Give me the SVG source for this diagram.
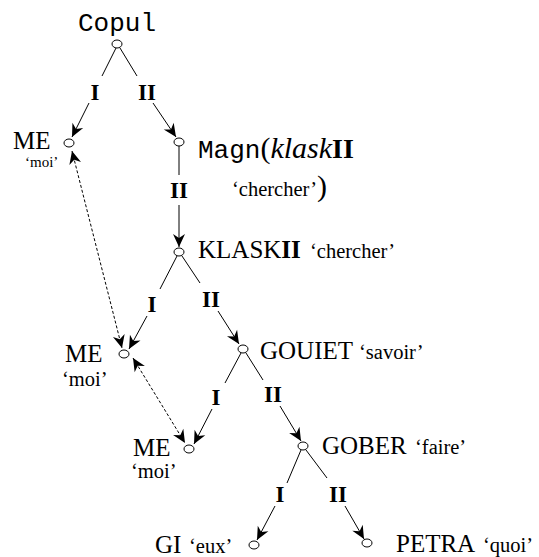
<svg xmlns="http://www.w3.org/2000/svg" width="539" height="557" viewBox="0 0 539 557">
<style>
.n{fill:#fff;stroke:#000;stroke-width:1}
.e{stroke:#000;stroke-width:1;fill:none}
.a{marker-end:url(#arr)}
.d{stroke-dasharray:3,2;marker-start:url(#arr);marker-end:url(#arr)}
.t{font-family:"Liberation Serif","Times New Roman",serif;fill:#000}
.big{font-size:25px}
.sm{font-size:20.5px}
.xs{font-size:15px}
.lab{font-family:"Liberation Serif","Times New Roman",serif;font-weight:bold;font-size:23px;text-anchor:middle}
.mono{font-family:"Liberation Mono","Courier New",monospace;font-size:26px}
</style>
<defs>
<marker id="arr" viewBox="-14 -7 15 14" refX="0" refY="0" markerWidth="15" markerHeight="14" markerUnits="userSpaceOnUse" orient="auto-start-reverse">
<path d="M0,0 L-13,-6 L-9,0 L-13,6 Z" fill="#000"/>
</marker>
</defs>
<rect width="539" height="557" fill="#fff"/>
<g id="connectors">
<line class="e" x1="116" y1="48" x2="102" y2="76"/>
<line class="e a" x1="89" y1="103" x2="72" y2="137"/>
<line class="e" x1="120" y1="48" x2="137" y2="76"/>
<line class="e a" x1="153" y1="103" x2="176" y2="137"/>
<line class="e" x1="179" y1="146" x2="179" y2="175"/>
<line class="e a" x1="179" y1="205" x2="179" y2="247"/>
<line class="e" x1="177" y1="256" x2="160" y2="289"/>
<line class="e a" x1="147" y1="316" x2="129" y2="349"/>
<line class="e" x1="182" y1="256" x2="200" y2="283"/>
<line class="e a" x1="218" y1="311" x2="239" y2="344"/>
<line class="e" x1="241" y1="353" x2="225" y2="383"/>
<line class="e a" x1="212" y1="409" x2="194" y2="444"/>
<line class="e" x1="246" y1="353" x2="263" y2="380"/>
<line class="e a" x1="280" y1="406" x2="301" y2="441"/>
<line class="e" x1="301" y1="450" x2="287" y2="483"/>
<line class="e a" x1="275" y1="506" x2="257" y2="540"/>
<line class="e" x1="306" y1="450" x2="327" y2="478"/>
<line class="e a" x1="345" y1="506" x2="364" y2="539"/>
<line class="e d" x1="72" y1="151" x2="122" y2="348"/>
<line class="e d" x1="133" y1="358" x2="185" y2="443"/>
<text class="lab" x="95" y="100">I</text>
<text class="lab" x="147" y="100">II</text>
<text class="lab" x="179" y="198">II</text>
<text class="lab" x="152" y="312">I</text>
<text class="lab" x="211" y="307">II</text>
<text class="lab" x="216" y="405">I</text>
<text class="lab" x="273" y="402">II</text>
<text class="lab" x="280" y="502">I</text>
<text class="lab" x="338" y="502">II</text>
</g>
<g id="copul">
<ellipse class="n" cx="117" cy="44" rx="5" ry="4"/>
<text class="mono" x="117" y="31" text-anchor="middle">Copul</text>
</g>
<g id="me1">
<ellipse class="n" cx="69" cy="143" rx="5" ry="4"/>
<text class="t big" x="13" y="149">ME</text>
<text class="t xs" x="25" y="167">‘moi’</text>
</g>
<g id="magn">
<ellipse class="n" cx="179" cy="142" rx="5" ry="4"/>
<text x="198" y="158"><tspan class="mono">Magn</tspan><tspan class="t" font-size="30">(</tspan><tspan class="t" font-size="30" font-style="italic">klask</tspan><tspan class="t" font-size="28" font-weight="bold">II</tspan></text>
<text class="t" x="232" y="196"><tspan class="sm">‘chercher’</tspan><tspan font-size="30">)</tspan></text>
</g>
<g id="klask">
<ellipse class="n" cx="179" cy="252" rx="5" ry="4"/>
<text class="t big" x="198" y="258">KLASK<tspan font-weight="bold">II</tspan></text>
<text class="t sm" x="310" y="258">‘chercher’</text>
</g>
<g id="me2">
<ellipse class="n" cx="124" cy="354" rx="5" ry="4"/>
<text class="t big" x="65" y="362">ME</text>
<text class="t sm" x="62" y="386">‘moi’</text>
</g>
<g id="gouiet">
<ellipse class="n" cx="243" cy="349" rx="5" ry="4"/>
<text class="t big" x="260" y="359">GOUIET</text>
<text class="t sm" x="359" y="359">‘savoir’</text>
</g>
<g id="me3">
<ellipse class="n" cx="189" cy="449" rx="5" ry="4"/>
<text class="t big" x="133" y="456">ME</text>
<text class="t sm" x="131" y="478">‘moi’</text>
</g>
<g id="gober">
<ellipse class="n" cx="303" cy="446" rx="5" ry="4"/>
<text class="t big" x="322" y="454">GOBER</text>
<text class="t sm" x="415" y="454">‘faire’</text>
</g>
<g id="gi">
<ellipse class="n" cx="254" cy="545" rx="5" ry="4"/>
<text class="t big" x="155" y="553">GI</text>
<text class="t sm" x="189" y="553">‘eux’</text>
</g>
<g id="petra">
<ellipse class="n" cx="367" cy="543" rx="5" ry="4"/>
<text class="t big" x="396" y="552">PETRA</text>
<text class="t sm" x="483" y="552">‘quoi’</text>
</g>
</svg>
